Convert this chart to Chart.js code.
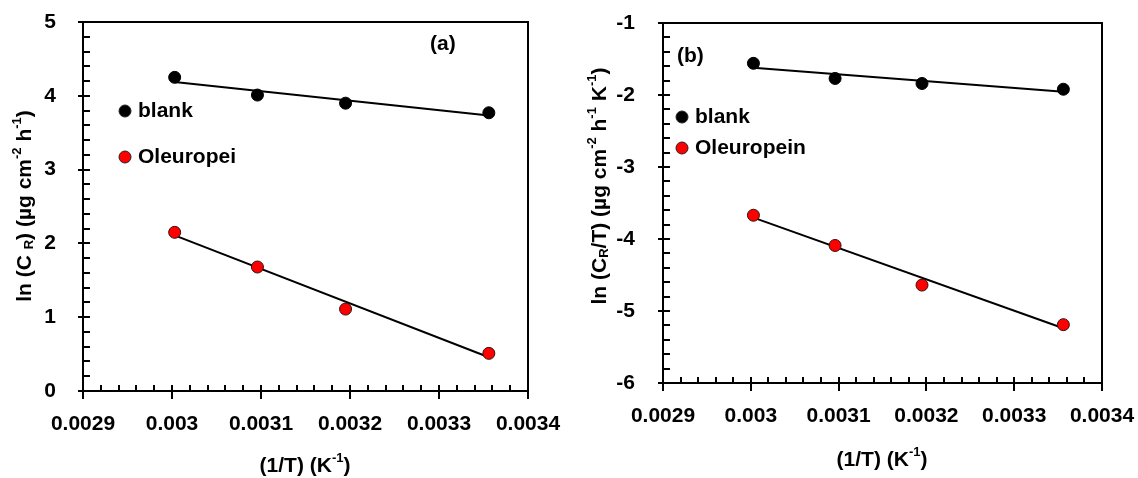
<!DOCTYPE html>
<html>
<head>
<meta charset="utf-8">
<script src="https://cdn.jsdelivr.net/npm/chart.js@4.4.1/dist/chart.umd.min.js"></script>
<style>
  html, body { margin: 0; padding: 0; background: #fff; }
  .panel { position: absolute; top: 0; }
</style>
</head>
<body>
<div class="panel" style="left:0px"><canvas id="chartA" width="565" height="478"></canvas></div>
<div class="panel" style="left:570px"><canvas id="chartB" width="568" height="478"></canvas></div>
<script>
// Arrhenius / transition state plots for blank and Oleuropein

// shared x axis: 1/T (K^-1)
const xTicks = [0.0029, 0.003, 0.0031, 0.0032, 0.0033, 0.0034];
const xTickLabels = ['0.0029', '0.003', '0.0031', '0.0032', '0.0033', '0.0034'];
const invT = [0.003003, 0.003096, 0.003195, 0.003356];

// panel (a): ln(CR)
const yTicksA = [0, 1, 2, 3, 4, 5];
const lnCrBlank = [4.25, 4.01, 3.90, 3.77];
const lnCrOleuropein = [2.15, 1.68, 1.11, 0.51];

// panel (b): ln(CR/T)
const yTicksB = [-6, -5, -4, -3, -2, -1];
const lnCrTBlank = [-1.56, -1.77, -1.84, -1.92];
const lnCrTOleuropein = [-3.67, -4.09, -4.64, -5.19];

const FONT = '"Liberation Sans", Arial, sans-serif';
const minorPerMajorX = 5;
const minorPerMajorY = 5;

// least squares line through the points, from first to last x
function fitLine(xs, ys) {
  const n = xs.length;
  const mx = xs.reduce((a, b) => a + b, 0) / n;
  const my = ys.reduce((a, b) => a + b, 0) / n;
  let sxy = 0, sxx = 0;
  for (let i = 0; i < n; i++) {
    sxy += (xs[i] - mx) * (ys[i] - my);
    sxx += (xs[i] - mx) * (xs[i] - mx);
  }
  const slope = sxy / sxx;
  const x0 = xs[0], x1 = xs[n - 1];
  return [{ x: x0, y: my + slope * (x0 - mx) }, { x: x1, y: my + slope * (x1 - mx) }];
}

function toPoints(xs, ys) {
  return xs.map((x, i) => ({ x: x, y: ys[i] }));
}

// keep the scales from pushing the plot area around
function noScalePadding(s) {
  s.paddingLeft = 0;
  s.paddingRight = 0;
  s.paddingTop = 0;
  s.paddingBottom = 0;
}

// draws text made of pieces (normal / sup / sub), centered on 0
function drawRich(ctx, pieces) {
  const big = 'bold 21px ' + FONT;
  const small = 'bold 13px ' + FONT;
  let total = 0;
  pieces.forEach(p => {
    ctx.font = p.s ? small : big;
    total += ctx.measureText(p.t).width;
  });
  let x = -total / 2;
  ctx.textAlign = 'left';
  ctx.textBaseline = 'middle';
  pieces.forEach(p => {
    ctx.font = p.s ? small : big;
    const dy = p.s === 'sup' ? -8 : (p.s === 'sub' ? 4 : 0);
    ctx.fillText(p.t, x, dy);
    x += ctx.measureText(p.t).width;
  });
}

// frame, inward ticks, axis titles, legend and panel letter
const decorPlugin = {
  id: 'decor',
  afterDraw(chart, args, opts) {
    const { ctx, chartArea } = chart;
    const { left, right, top, bottom } = chartArea;
    const xs = chart.scales.x, ys = chart.scales.y;
    ctx.save();
    ctx.strokeStyle = '#000';
    ctx.fillStyle = '#000';
    ctx.lineWidth = 2;
    ctx.strokeRect(left, top, right - left, bottom - top);

    // x ticks
    const xMin = xTicks[0], xMax = xTicks[xTicks.length - 1];
    const nx = (xTicks.length - 1) * minorPerMajorX;
    ctx.beginPath();
    for (let i = 0; i <= nx; i++) {
      const px = Math.round(xs.getPixelForValue(xMin + (xMax - xMin) * i / nx));
      if (i % minorPerMajorX === 0) {
        ctx.moveTo(px, bottom - 6); ctx.lineTo(px, bottom + 8);
      } else {
        ctx.moveTo(px, bottom - 6); ctx.lineTo(px, bottom);
      }
    }
    // y ticks
    const yt = opts.yTicks;
    const yMin = yt[0], yMax = yt[yt.length - 1];
    const ny = (yt.length - 1) * minorPerMajorY;
    for (let i = 0; i <= ny; i++) {
      const py = Math.round(ys.getPixelForValue(yMin + (yMax - yMin) * i / ny));
      if (i % minorPerMajorY === 0) {
        ctx.moveTo(left - 5, py); ctx.lineTo(left + 7, py);
      } else {
        ctx.moveTo(left, py); ctx.lineTo(left + 7, py);
      }
    }
    ctx.stroke();

    // y title
    ctx.save();
    ctx.translate(opts.yTitlePos[0], opts.yTitlePos[1]);
    ctx.rotate(-Math.PI / 2);
    drawRich(ctx, opts.yTitle);
    ctx.restore();

    // x title
    ctx.save();
    ctx.translate(opts.xTitlePos[0], opts.xTitlePos[1]);
    drawRich(ctx, [{ t: '(1/T) (K' }, { t: '-1', s: 'sup' }, { t: ')' }]);
    ctx.restore();

    // panel letter
    ctx.font = 'bold 21px ' + FONT;
    ctx.textAlign = 'left';
    ctx.textBaseline = 'middle';
    ctx.fillText(opts.letter, opts.letterPos[0], opts.letterPos[1]);

    // legend
    opts.legend.forEach(item => {
      ctx.beginPath();
      ctx.arc(opts.legendX, item.y, 6, 0, Math.PI * 2);
      ctx.fillStyle = item.color;
      ctx.fill();
      ctx.lineWidth = 1;
      ctx.strokeStyle = '#222';
      ctx.stroke();
      ctx.fillStyle = '#000';
      ctx.fillText(item.label, opts.legendX + 13, item.y);
    });
    ctx.restore();
  }
};

function makeChart(id, cfg) {
  const ctx = document.getElementById(id).getContext('2d');
  const tickFont = { family: FONT, size: 21, weight: 'bold' };
  return new Chart(ctx, {
    type: 'scatter',
    data: {
      datasets: [{
        label: 'blank',
        data: toPoints(invT, cfg.blank),
        backgroundColor: '#000',
        borderColor: '#000',
        borderWidth: 1,
        pointRadius: 6,
        order: 0
      }, {
        label: cfg.redLabel,
        data: toPoints(invT, cfg.red),
        backgroundColor: '#ff0000',
        borderColor: '#331111',
        borderWidth: 1,
        pointRadius: 6,
        order: 0
      }, {
        type: 'line',
        label: 'fit blank',
        data: fitLine(invT, cfg.blank),
        borderColor: '#000',
        borderWidth: 2,
        pointRadius: 0,
        fill: false,
        order: 1
      }, {
        type: 'line',
        label: 'fit red',
        data: fitLine(invT, cfg.red),
        borderColor: '#000',
        borderWidth: 2,
        pointRadius: 0,
        fill: false,
        order: 1
      }]
    },
    options: {
      responsive: false,
      animation: false,
      layout: { padding: cfg.padding },
      scales: {
        x: {
          type: 'linear',
          min: xTicks[0],
          max: xTicks[xTicks.length - 1],
          grid: { display: false },
          border: { display: false },
          afterBuildTicks: s => { s.ticks = xTicks.map(v => ({ value: v })); },
          afterFit: s => { s.height = cfg.xHeight; noScalePadding(s); },
          ticks: {
            color: '#000',
            font: tickFont,
            padding: cfg.xPad,
            autoSkip: false,
            maxRotation: 0,
            callback: (v, i) => xTickLabels[i]
          }
        },
        y: {
          type: 'linear',
          min: cfg.yTicks[0],
          max: cfg.yTicks[cfg.yTicks.length - 1],
          grid: { display: false },
          border: { display: false },
          afterBuildTicks: s => { s.ticks = cfg.yTicks.map(v => ({ value: v })); },
          afterFit: s => { s.width = cfg.yWidth; noScalePadding(s); },
          ticks: {
            color: '#000',
            font: tickFont,
            padding: cfg.yPad,
            callback: v => String(v)
          }
        }
      },
      plugins: {
        legend: { display: false },
        tooltip: { enabled: false },
        decor: {
          yTicks: cfg.yTicks,
          yTitle: cfg.yTitle,
          yTitlePos: cfg.yTitlePos,
          xTitlePos: cfg.xTitlePos,
          letter: cfg.letter,
          letterPos: cfg.letterPos,
          legendX: cfg.legendX,
          legend: [
            { label: 'blank', color: '#000', y: cfg.legendY[0] },
            { label: cfg.redLabel, color: '#ff0000', y: cfg.legendY[1] }
          ]
        }
      }
    },
    plugins: [decorPlugin]
  });
}

document.addEventListener('DOMContentLoaded', function() {
  makeChart('chartA', {
    blank: lnCrBlank,
    red: lnCrOleuropein,
    redLabel: 'Oleuropei',
    yTicks: yTicksA,
    padding: { left: 0, right: 37, top: 22, bottom: 0 },
    yWidth: 83,
    xHeight: 87,
    xPad: 13,
    yPad: 19,
    yTitle: [{ t: 'ln (C ' }, { t: 'R', s: 'sub' }, { t: ') (µg cm' }, { t: '-2', s: 'sup' },
             { t: ' h' }, { t: '-1', s: 'sup' }, { t: ')' }],
    yTitlePos: [25, 206],
    xTitlePos: [305, 466],
    letter: '(a)',
    letterPos: [430, 44],
    legendX: 125,
    legendY: [111, 157]
  });

  makeChart('chartB', {
    blank: lnCrTBlank,
    red: lnCrTOleuropein,
    redLabel: 'Oleuropein',
    yTicks: yTicksB,
    padding: { left: 0, right: 36, top: 23, bottom: 0 },
    yWidth: 93,
    xHeight: 95,
    xPad: 13,
    yPad: 20,
    yTitle: [{ t: 'ln (C' }, { t: 'R', s: 'sub' }, { t: '/T) (µg cm' }, { t: '-2', s: 'sup' },
             { t: ' h' }, { t: '-1', s: 'sup' }, { t: ' K' }, { t: '-1', s: 'sup' }, { t: ')' }],
    yTitlePos: [30, 186],
    xTitlePos: [312, 460],
    letter: '(b)',
    letterPos: [107, 56],
    legendX: 112,
    legendY: [117, 148]
  });
});
</script>
</body>
</html>
